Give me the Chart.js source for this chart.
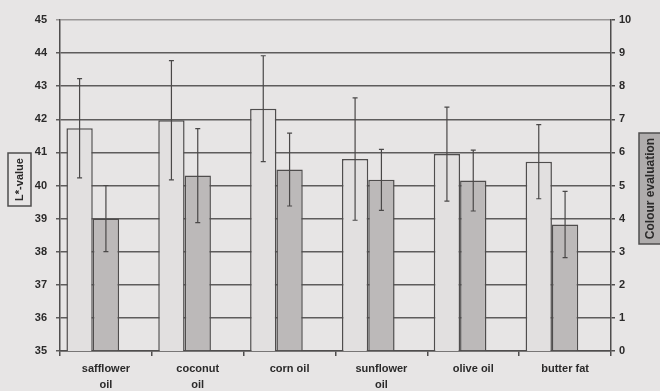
<!DOCTYPE html>
<html>
<head>
<meta charset="utf-8">
<script src="https://cdn.jsdelivr.net/npm/chart.js@4"></script>
<style>
  html, body { margin: 0; padding: 0; background: #e7e5e5; }
  #wrap { width: 660px; height: 391px; }
</style>
</head>
<body>
<div id="wrap"><canvas id="chart"></canvas></div>
<script>
const categories   = [['safflower', 'oil'], ['coconut', 'oil'], 'corn oil', ['sunflower', 'oil'], 'olive oil', 'butter fat'];
const lValues      = [41.73, 41.97, 42.32, 40.80, 40.95, 40.72];
const lErrors      = [1.50, 1.80, 1.60, 1.85, 1.42, 1.12];
const colourValues = [4.00, 5.30, 5.48, 5.17, 5.15, 3.82];
const colourErrors = [1.00, 1.42, 1.10, 0.92, 0.92, 1.00];
const leftRange    = [35, 45];
const rightRange   = [0, 10];

const ink   = '#4f4d4d';
const text  = '#2b2a2a';
const family = "'Liberation Sans', Arial, sans-serif";

// paper-coloured background, like the scanned figure
const background = {
  id: 'background',
  beforeDraw(chart) {
    const ctx = chart.ctx;
    ctx.save();
    ctx.fillStyle = '#e7e5e5';
    ctx.fillRect(0, 0, chart.width, chart.height);
    ctx.restore();
  }
};

// error bars for both series, through the scales
const errorBars = {
  id: 'errorBars',
  afterDatasetsDraw(chart) {
    const ctx = chart.ctx;
    ctx.save();
    ctx.strokeStyle = '#4a4848';
    ctx.lineWidth = 1.2;
    [[0, 'y', lValues, lErrors], [1, 'y1', colourValues, colourErrors]].forEach(([di, axis, vals, errs]) => {
      const meta = chart.getDatasetMeta(di);
      const sc = chart.scales[axis];
      meta.data.forEach((bar, i) => {
        const x = bar.x;
        const top = sc.getPixelForValue(vals[i] + errs[i]);
        const bot = sc.getPixelForValue(vals[i] - errs[i]);
        ctx.beginPath();
        ctx.moveTo(x, top); ctx.lineTo(x, bot);
        ctx.moveTo(x - 2.5, top); ctx.lineTo(x + 2.5, top);
        ctx.moveTo(x - 2.5, bot); ctx.lineTo(x + 2.5, bot);
        ctx.stroke();
      });
    });
    ctx.restore();
  }
};

// boxed, rotated axis titles
const axisTitles = {
  id: 'axisTitles',
  afterDraw(chart) {
    const ctx = chart.ctx;
    ctx.save();
    ctx.lineWidth = 1.5;
    ctx.strokeStyle = ink;
    ctx.strokeRect(8, 153, 23, 53);
    ctx.fillStyle = '#afacac';
    ctx.fillRect(639, 133, 24, 111);
    ctx.strokeRect(639, 133, 24, 111);

    ctx.fillStyle = text;
    ctx.textAlign = 'center';
    ctx.textBaseline = 'middle';
    ctx.font = 'bold 11px ' + family;
    ctx.translate(20, 179.5);
    ctx.rotate(-Math.PI / 2);
    ctx.fillText('L*-value', 0, 0);
    ctx.setTransform(1, 0, 0, 1, 0, 0);
    ctx.font = 'bold 12px ' + family;
    ctx.translate(651, 188.5);
    ctx.rotate(-Math.PI / 2);
    ctx.fillText('Colour evaluation', 0, 0);
    ctx.restore();
  }
};

new Chart(document.getElementById('chart'), {
  type: 'bar',
  data: {
    labels: categories,
    datasets: [
      { label: 'L*-value', data: lValues, yAxisID: 'y',
        backgroundColor: '#e2e0e0', borderColor: ink, borderWidth: 1.5 },
      { label: 'Colour evaluation', data: colourValues, yAxisID: 'y1',
        backgroundColor: '#bcb9b9', borderColor: ink, borderWidth: 1.5 },
      // empty slot: keeps the pair of bars left of the category centre
      { label: '', data: categories.map(() => null), yAxisID: 'y1' },
    ],
  },
  options: {
    responsive: true,
    maintainAspectRatio: false,
    animation: false,
    categoryPercentage: 0.86,
    barPercentage: 1.0,
    layout: { padding: { top: 20, left: 0, right: 0, bottom: 0 } },
    plugins: { legend: { display: false }, tooltip: { enabled: false } },
    scales: {
      x: {
        grid: { display: true, drawOnChartArea: false, drawTicks: true, tickLength: 5, color: ink, lineWidth: 1.5, offset: true },
        border: { display: true, color: ink, width: 1.5 },
        ticks: { color: text, font: { family, size: 11, weight: 'bold', lineHeight: 1.45 }, padding: 5, maxRotation: 0, autoSkip: false },
        afterFit: s => { s.height = 40; },
      },
      y: {
        position: 'left',
        min: leftRange[0], max: leftRange[1],
        ticks: { stepSize: 1, color: text, font: { family, size: 11, weight: 'bold' }, padding: 9 },
        grid: {
          color: c => c.tick && c.tick.value === leftRange[1] ? '#9a9797' : '#5e5c5c',
          lineWidth: 1.5, drawTicks: true, tickLength: 4,
        },
        border: { display: true, color: ink, width: 1.5 },
        afterFit: s => { s.width = 60; },
      },
      y1: {
        position: 'right',
        min: rightRange[0], max: rightRange[1],
        ticks: { stepSize: 1, color: text, font: { family, size: 11, weight: 'bold' }, padding: 4 },
        grid: { drawOnChartArea: false, drawTicks: true, tickLength: 4, color: ink, lineWidth: 1.5 },
        border: { display: true, color: ink, width: 1.5 },
        afterFit: s => { s.width = 49; },
      },
    },
  },
  plugins: [background, errorBars, axisTitles],
});
</script>
</body>
</html>
